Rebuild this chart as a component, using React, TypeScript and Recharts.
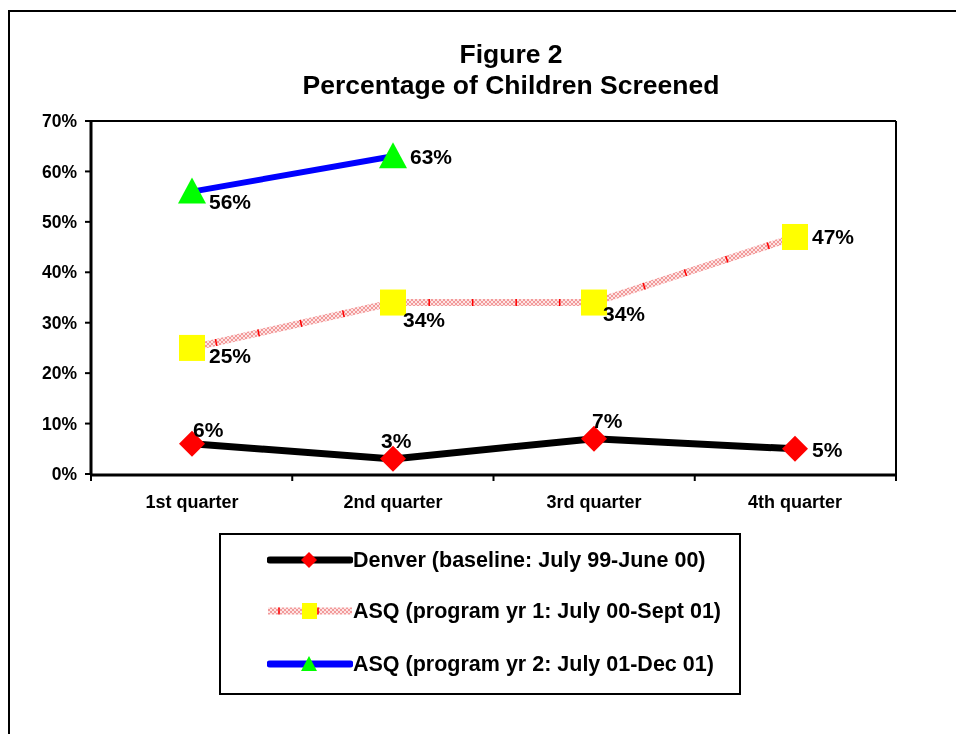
import { LineChart, Line, XAxis, YAxis, ReferenceLine, LabelList } from 'recharts'

const quarters = ['1st quarter', '2nd quarter', '3rd quarter', '4th quarter']
const denver = [6, 3, 7, 5]
const asqYear1 = [25, 34, 34, 47]
const asqYear2: Array<number | null> = [56, 63, null, null]
const yTicks = [0, 10, 20, 30, 40, 50, 60, 70]
const slotTicks = [0, 1, 2, 3, 4]

// label placement per point: [dx to text start, dy to text middle]
const denverLabelPos = [[1, -14], [-12, -18], [-2, -18], [17, 1]]
const asq1LabelPos = [[17, 8], [10, 17], [9, 11], [17, 0]]
const asq2LabelPos = [[17, 10], [17, 0], [0, 0], [0, 0]]

const data = quarters.map((quarter, i) => ({
  quarter,
  slot: i + 0.5,
  denver: denver[i],
  asq1: asqYear1[i],
  asq2: asqYear2[i],
}))

const FONT = '"Liberation Sans", Arial, sans-serif'

const Diamond = (props: any) => {
  const { cx, cy, index } = props
  if (cx == null || cy == null) return <g key={`d${index}`} />
  const r = 13
  return (
    <polygon
      key={`d${index}`}
      points={`${cx},${cy - r} ${cx + r},${cy} ${cx},${cy + r} ${cx - r},${cy}`}
      fill="#ff0000"
    />
  )
}

const Square = (props: any) => {
  const { cx, cy, index } = props
  if (cx == null || cy == null) return <g key={`s${index}`} />
  return <rect key={`s${index}`} x={cx - 13} y={cy - 13} width={26} height={26} fill="#ffff00" />
}

const Triangle = (props: any) => {
  const { cx, cy, index } = props
  if (cx == null || cy == null) return <g key={`t${index}`} />
  return (
    <polygon
      key={`t${index}`}
      points={`${cx},${cy - 14} ${cx + 14},${cy + 12} ${cx - 14},${cy + 12}`}
      fill="#00ff00"
    />
  )
}

const makeLabel = (pos: number[][]) => (props: any) => {
  const { x, y, value, index } = props
  if (value == null || x == null || y == null) return null
  const [dx, dy] = pos[index] || [0, 0]
  return (
    <text
      x={x + dx}
      y={y + dy}
      dominantBaseline="central"
      textAnchor="start"
      fontFamily={FONT}
      fontWeight="bold"
      fontSize={21}
      fill="#000"
    >
      {value}%
    </text>
  )
}

const legendItems = [
  { name: 'Denver (baseline: July 99-June 00)', kind: 'denver' },
  { name: 'ASQ (program yr 1: July 00-Sept 01)', kind: 'asq1' },
  { name: 'ASQ (program yr 2: July 01-Dec 01)', kind: 'asq2' },
]

function LegendSample({ kind }: { kind: string }) {
  return (
    <svg width={86} height={22} style={{ display: 'block' }}>
      <defs>
        <pattern id="hatchLeg" patternUnits="userSpaceOnUse" width={4} height={4}>
          <rect width={4} height={4} fill="#fde4e4" />
          <path d="M0,4 L4,0 M0,0 L4,4" stroke="#f29a9a" strokeWidth={1} />
        </pattern>
      </defs>
      {kind === 'denver' && (
        <>
          <line x1={3} y1={11} x2={83} y2={11} stroke="#000" strokeWidth={7} strokeLinecap="round" />
          <polygon points="42,3 50,11 42,19 34,11" fill="#ff0000" />
        </>
      )}
      {kind === 'asq1' && (
        <>
          <line x1={1} y1={11} x2={85} y2={11} stroke="url(#hatchLeg)" strokeWidth={7} />
          <line x1={12} y1={7.5} x2={12} y2={14.5} stroke="#ff0000" strokeWidth={1.5} />
          <line x1={51} y1={7.5} x2={51} y2={14.5} stroke="#ff0000" strokeWidth={1.5} />
          <rect x={35} y={3} width={15} height={16} fill="#ffff00" />
        </>
      )}
      {kind === 'asq2' && (
        <>
          <line x1={3} y1={11} x2={83} y2={11} stroke="#0000ff" strokeWidth={7} strokeLinecap="round" />
          <polygon points="42,3 50,18 34,18" fill="#00ff00" />
        </>
      )}
    </svg>
  )
}

export default function App() {
  return (
    <div style={{ position: 'relative', width: 940, height: 718, fontFamily: FONT }}>
      <div
        style={{
          position: 'fixed',
          left: 8,
          top: 10,
          width: 2000,
          height: 2000,
          borderLeft: '2px solid #000',
          borderTop: '2px solid #000',
        }}
      />
      <div
        style={{
          position: 'absolute',
          left: 0,
          width: 1006,
          top: 31,
          textAlign: 'center',
          fontWeight: 'bold',
          fontSize: 26.5,
          lineHeight: '31px',
          color: '#000',
        }}
      >
        Figure 2
        <br />
        Percentage of Children Screened
      </div>
      <div style={{ position: 'absolute', left: 0, top: 0 }}>
        <LineChart width={940} height={718} data={data} margin={{ top: 113, right: 52, bottom: 211, left: 0 }}>
          <defs>
            <pattern id="hatch" patternUnits="userSpaceOnUse" width={4} height={4}>
              <rect width={4} height={4} fill="#fde4e4" />
              <path d="M0,4 L4,0 M0,0 L4,4" stroke="#f29a9a" strokeWidth={1} />
            </pattern>
          </defs>
          <XAxis
            xAxisId="bCat"
            dataKey="quarter"
            padding={{ left: 101, right: 101 }}
            height={40}
            axisLine={{ stroke: '#000', strokeWidth: 3 }}
            tickLine={false}
            tickSize={0}
            tickMargin={20}
            interval={0}
            tick={{ fill: '#000', fontSize: 18, fontWeight: 'bold', fontFamily: FONT }}
          />
          <XAxis
            xAxisId="aSlots"
            dataKey="slot"
            type="number"
            domain={[0, 4]}
            allowDataOverflow
            ticks={slotTicks}
            interval={0}
            height={1}
            axisLine={false}
            tickLine={{ stroke: '#000', strokeWidth: 2 }}
            tickSize={7}
            tickFormatter={() => ''}
          />
          <YAxis
            domain={[0, 70]}
            ticks={yTicks}
            interval={0}
            width={83}
            tickFormatter={(v) => `${v}%`}
            axisLine={{ stroke: '#000', strokeWidth: 3 }}
            tickLine={{ stroke: '#000', strokeWidth: 2 }}
            tickSize={6}
            tickMargin={8}
            tick={{ fill: '#000', fontSize: 17.5, fontWeight: 'bold', fontFamily: FONT }}
          />
          <ReferenceLine xAxisId="bCat" y={70} stroke="#000" strokeWidth={2} />
          <ReferenceLine xAxisId="aSlots" x={4} stroke="#000" strokeWidth={2} />

          <Line
            xAxisId="bCat"
            dataKey="denver"
            stroke="#000"
            strokeWidth={7}
            dot={Diamond}
            activeDot={false}
            isAnimationActive={false}
          >
            <LabelList dataKey="denver" content={makeLabel(denverLabelPos)} />
          </Line>

          <Line
            xAxisId="bCat"
            dataKey="asq1"
            stroke="url(#hatch)"
            strokeWidth={7}
            dot={false}
            activeDot={false}
            isAnimationActive={false}
          />
          <Line
            xAxisId="bCat"
            dataKey="asq1"
            stroke="#ff0000"
            strokeWidth={7}
            strokeDasharray="1.5 42"
            strokeDashoffset={-24}
            dot={false}
            activeDot={false}
            legendType="none"
            isAnimationActive={false}
          />
          <Line
            xAxisId="bCat"
            dataKey="asq1"
            stroke="none"
            strokeWidth={0}
            dot={Square}
            activeDot={false}
            legendType="none"
            isAnimationActive={false}
          >
            <LabelList dataKey="asq1" content={makeLabel(asq1LabelPos)} />
          </Line>

          <Line
            xAxisId="bCat"
            dataKey="asq2"
            stroke="#0000ff"
            strokeWidth={6}
            dot={Triangle}
            activeDot={false}
            isAnimationActive={false}
          >
            <LabelList dataKey="asq2" content={makeLabel(asq2LabelPos)} />
          </Line>
        </LineChart>
      </div>

      <div
        style={{
          position: 'absolute',
          left: 211,
          top: 525,
          width: 522,
          height: 162,
          border: '2px solid #000',
          boxSizing: 'border-box',
          background: '#fff',
        }}
      >
        {legendItems.map((item, i) => (
          <div
            key={item.kind}
            style={{
              position: 'absolute',
              left: 46,
              top: [14, 65, 118][i],
              height: 22,
              display: 'flex',
              alignItems: 'center',
              whiteSpace: 'nowrap',
            }}
          >
            <LegendSample kind={item.kind} />
            <span style={{ fontWeight: 'bold', fontSize: 21.5, color: '#000' }}>{item.name}</span>
          </div>
        ))}
      </div>
    </div>
  )
}
